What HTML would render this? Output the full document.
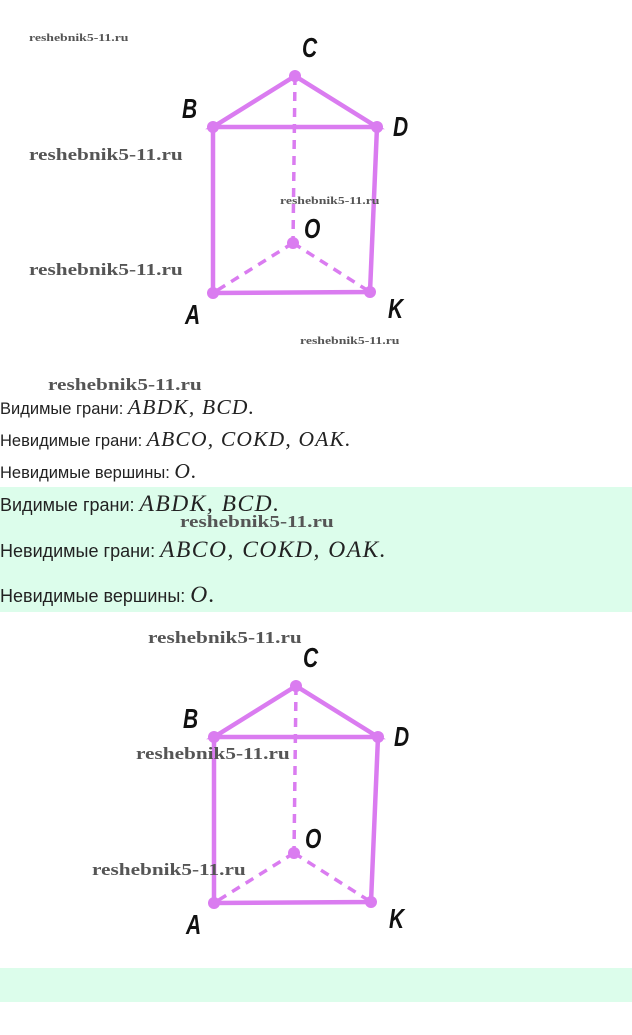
<!DOCTYPE html>
<html><head><meta charset="utf-8"><style>
body{margin:0;width:632px;height:1035px;background:#fff;position:relative;overflow:hidden;font-family:"Liberation Sans","DejaVu Sans",sans-serif}
.wm{position:absolute;font-family:"Liberation Serif",serif;font-weight:bold;color:#555;white-space:nowrap;line-height:1;transform-origin:0 0;transform:scaleX(1.25)}
.s{font-size:11px}.b{font-size:17px}
.t{position:absolute;left:0;font-size:16.5px;color:#222;white-space:nowrap;line-height:1}
.t i{font-family:"Liberation Serif",serif;font-size:21.5px;color:#222;letter-spacing:1.2px}
.t2{font-size:18px}
.t2 i{font-size:23.5px;letter-spacing:1.5px}
.g{position:absolute;left:0;width:632px;background:#dcfdeb}
svg{position:absolute;left:0;top:0}
</style></head><body>
<div class="g" style="top:487px;height:125px"></div>
<div class="g" style="top:968px;height:34px"></div>
<svg width="632" height="1035">
<defs><g id="fig" stroke="#da7cf0" fill="none" stroke-width="4.5" stroke-linecap="round">
<path d="M213 127L295 76L377 127Z M213 127L213 293L370 292L377 127"/>
<path d="M295 76L293 243M293 243L213 293M293 243L370 292" stroke-width="3.5" stroke-dasharray="9 7" stroke-linecap="butt"/>
<g fill="#da7cf0" stroke="none"><circle cx="295" cy="76" r="6"/><circle cx="213" cy="127" r="6"/><circle cx="377" cy="127" r="6"/><circle cx="213" cy="293" r="6"/><circle cx="370" cy="292" r="6"/><circle cx="293" cy="243" r="6"/></g>
<g fill="#111" stroke="none" font-family="Liberation Sans,sans-serif" font-style="italic" font-weight="bold" font-size="28">
<text transform="translate(302,57) scale(0.75,1)">C</text><text transform="translate(182,118) scale(0.75,1)">B</text><text transform="translate(393,136) scale(0.75,1)">D</text><text transform="translate(304,238) scale(0.75,1)">O</text><text transform="translate(185,324) scale(0.75,1)">A</text><text transform="translate(388,318) scale(0.75,1)">K</text></g>
</g></defs>
<use href="#fig"/>
<use href="#fig" transform="translate(1,610)"/>
</svg>
<div class="wm s" style="left:29px;top:33px">reshebnik5-11.ru</div>
<div class="wm b" style="left:29px;top:146px">reshebnik5-11.ru</div>
<div class="wm s" style="left:280px;top:196px">reshebnik5-11.ru</div>
<div class="wm b" style="left:29px;top:261px">reshebnik5-11.ru</div>
<div class="wm s" style="left:300px;top:336px">reshebnik5-11.ru</div>
<div class="wm b" style="left:48px;top:376px">reshebnik5-11.ru</div>
<div class="t" style="top:397px">Видимые грани: <i>ABDK, BCD.</i></div>
<div class="t" style="top:429px">Невидимые грани: <i>ABCO, COKD, OAK.</i></div>
<div class="t" style="top:461px">Невидимые вершины: <i>O.</i></div>
<div class="t t2" style="top:493px">Видимые грани: <i>ABDK, BCD.</i></div>
<div class="wm b" style="left:180px;top:513px">reshebnik5-11.ru</div>
<div class="t t2" style="top:539px">Невидимые грани: <i>ABCO, COKD, OAK.</i></div>
<div class="t t2" style="top:584px">Невидимые вершины: <i>O.</i></div>
<div class="wm b" style="left:148px;top:629px">reshebnik5-11.ru</div>
<div class="wm b" style="left:136px;top:745px">reshebnik5-11.ru</div>
<div class="wm b" style="left:92px;top:861px">reshebnik5-11.ru</div>
</body></html>
